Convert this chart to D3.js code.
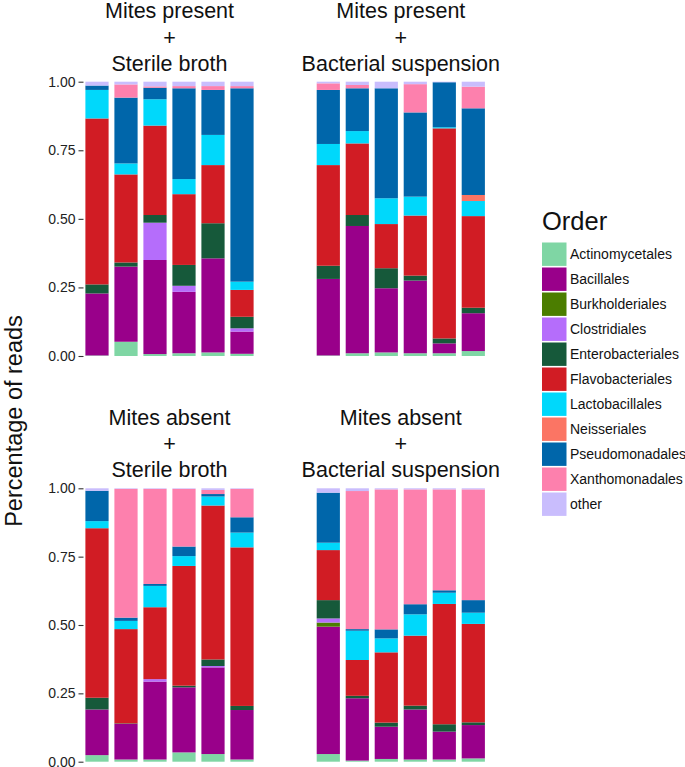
<!DOCTYPE html>
<html><head><meta charset="utf-8">
<script src="https://cdn.jsdelivr.net/npm/d3@7"></script>
<style>body{margin:0;background:#fff}svg{display:block}text{font-family:"Liberation Sans",Arial,sans-serif}</style>
</head><body><svg id="c" width="685" height="767"></svg>
<script>
const orders = ["Actinomycetales","Bacillales","Burkholderiales","Clostridiales","Enterobacteriales","Flavobacteriales","Lactobacillales","Neisseriales","Pseudomonadales","Xanthomonadales","other"];
const orderColors = ["#7fd6a4","#99008a","#4b7d00","#b56dfb","#16593a","#d11c24","#00d8fb","#fb7564","#0066aa","#fd80ad","#c9bdfd"];
const samples = ["S1","S2","S3","S4","S5","S6"];
const panelTitles = [
  ["Mites present","+","Sterile broth"],
  ["Mites present","+","Bacterial suspension"],
  ["Mites absent","+","Sterile broth"],
  ["Mites absent","+","Bacterial suspension"]
];
const yTicks = [0, 0.25, 0.5, 0.75, 1];
const yTickLabels = ["0.00","0.25","0.50","0.75","1.00"];
const yTitle = "Percentage of reads";
const legendTitle = "Order";

// values per bar, in the order of `orders`
const presentSterile = [
  [0.002,0.226,0,0,0.033,0.605,0.104,0,0.016,0,0.014],
  [0.052,0.274,0,0,0.015,0.321,0.040,0,0.240,0.048,0.010],
  [0.007,0.343,0,0.136,0.028,0.326,0.096,0,0.042,0.005,0.017],
  [0.010,0.224,0,0.022,0.076,0.258,0.055,0,0.331,0.008,0.016],
  [0.013,0.343,0,0,0.128,0.212,0.110,0,0.164,0.014,0.016],
  [0.008,0.081,0,0.012,0.042,0.098,0.030,0,0.705,0.008,0.016]
];
const presentBacterial = [
  [0.002,0.279,0,0,0.048,0.367,0.077,0,0.197,0.024,0.006],
  [0.010,0.464,0,0,0.040,0.261,0.045,0,0.156,0.012,0.012],
  [0.013,0.234,0,0,0.073,0.161,0.094,0,0.401,0,0.024],
  [0.010,0.265,0,0,0.018,0.219,0.069,0,0.307,0.103,0.009],
  [0.010,0.036,0,0,0.018,0.766,0.004,0,0.164,0,0.002],
  [0.018,0.138,0,0,0.020,0.334,0.055,0.022,0.316,0.079,0.018]
];
const absentSterile = [
  [0.024,0.167,0,0,0.043,0.620,0.026,0,0.111,0,0.009],
  [0.008,0.130,0,0,0.002,0.345,0.030,0,0.012,0.471,0.002],
  [0.008,0.285,0,0.009,0,0.263,0.078,0,0.007,0.348,0.002],
  [0.034,0.238,0,0,0.006,0.438,0.036,0,0.035,0.211,0.002],
  [0.028,0.317,0,0.005,0.024,0.563,0.033,0,0.009,0.015,0.006],
  [0.008,0.181,0,0,0.015,0.580,0.054,0,0.056,0.104,0.002]
];
const absentBacterial = [
  [0.028,0.466,0.015,0.015,0.067,0.183,0.027,0,0.183,0,0.016],
  [0.004,0.228,0,0,0.009,0.131,0.107,0,0.006,0.505,0.010],
  [0.010,0.118,0,0,0.015,0.257,0.051,0,0.033,0.512,0.004],
  [0.008,0.183,0,0,0.014,0.256,0.078,0,0.037,0.420,0.004],
  [0.008,0.102,0,0,0.027,0.440,0.041,0,0.009,0.369,0.004],
  [0.012,0.122,0,0,0.010,0.360,0.041,0,0.046,0.405,0.004]
];
const panelData = [presentSterile, presentBacterial, absentSterile, absentBacterial];

const svg = d3.select("#c");
const color = d3.scaleOrdinal().domain(orders).range(orderColors);

const colsX = [[82.5, 256.5], [313.8, 487.8]];
const rowsY = [[81.7, 356], [488.3, 761.7]];

const stack = d3.stack().keys(d3.range(orders.length)).value((d, k) => d.vals[k]);

panelData.forEach((data, pi) => {
  const [x0, x1] = colsX[pi % 2];
  const [yTop, yBot] = rowsY[Math.floor(pi / 2)];
  const x = d3.scaleBand().domain(samples).range([x0, x1]).paddingInner(0.2).paddingOuter(0.1);
  const y = d3.scaleLinear().domain([0, 1]).range([yBot, yTop]);
  const g = svg.append("g");
  const rows = data.map((v, i) => ({ s: samples[i], vals: v }));
  const series = stack(rows);
  g.selectAll("g.layer").data(series).join("g")
    .attr("fill", d => color(orders[d.key]))
    .selectAll("rect").data(d => d).join("rect")
    .attr("x", d => x(d.data.s))
    .attr("width", x.bandwidth())
    .attr("y", d => y(d[1]))
    .attr("height", d => Math.max(0, y(d[0]) - y(d[1])));

  if (pi % 2 === 0) {
    const ax = g.append("g").attr("transform", `translate(${x0 + 1},0)`)
      .call(d3.axisLeft(y).tickValues(yTicks).tickFormat((d, i) => yTickLabels[i]).tickSize(5).tickPadding(3));
    ax.select(".domain").remove();
    ax.selectAll("line").attr("stroke", "#333").attr("stroke-width", 1.1);
    ax.selectAll("text").attr("fill", "#222").style("font-size", "14px")
      .style("font-family", '"Liberation Sans",Arial,sans-serif');
  }

  const cx = (x0 + x1) / 2;
  const t = svg.append("text").attr("text-anchor", "middle").attr("font-size", 21.5).attr("fill", "#111");
  panelTitles[pi].forEach((line, li) => {
    t.append("tspan").attr("x", cx).attr("y", yTop - 63.5 + li * 26.3).text(line);
  });
});

svg.append("text").attr("transform", "translate(22,421) rotate(-90)")
  .attr("text-anchor", "middle").attr("font-size", 23.5).attr("fill", "#111").text(yTitle);

const lg = svg.append("g");
lg.append("text").attr("x", 542).attr("y", 230).attr("font-size", 25.5).attr("fill", "#111").text(legendTitle);
orders.forEach((o, i) => {
  const yy = 241.7 + i * 25;
  lg.append("rect").attr("x", 542).attr("y", yy + 0.8).attr("width", 24.5).attr("height", 23.4).attr("fill", color(o));
  lg.append("text").attr("x", 570).attr("y", yy + 12.5).attr("dy", "0.36em").attr("font-size", 14).attr("fill", "#111").text(o);
});
</script></body></html>
